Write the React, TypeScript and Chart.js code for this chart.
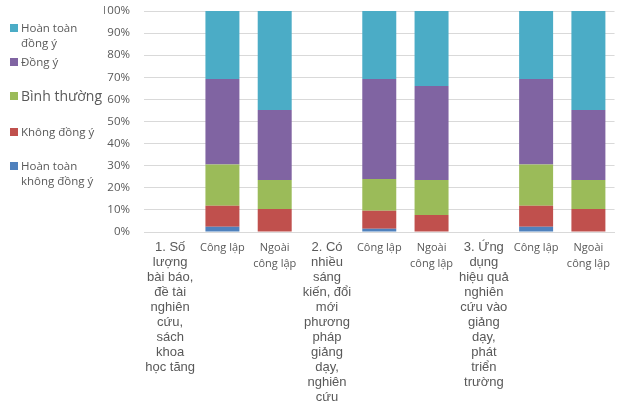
import React, { useEffect, useRef } from "react";
import { Chart, registerables } from "chart.js";

Chart.register(...registerables);

// ---- Data ----
const categories: string[][] = [
  ["1. Số", "lượng", "bài báo,", "đề tài", "nghiên", "cứu,", "sách", "khoa", "học tăng"],
  ["Công lập"],
  ["Ngoài", "công lập"],
  ["2. Có", "nhiều", "sáng", "kiến, đổi", "mới", "phương", "pháp", "giảng", "dạy,", "nghiên", "cứu"],
  ["Công lập"],
  ["Ngoài", "công lập"],
  ["3. Ứng", "dụng", "hiệu quả", "nghiên", "cứu vào", "giảng", "dạy,", "phát", "triển", "trường"],
  ["Công lập"],
  ["Ngoài", "công lập"],
];

const seriesNames = ["Hoàn toàn không đồng ý", "Không đồng ý", "Bình thường", "Đồng ý", "Hoàn toàn đồng ý"];
const legendLines = [["Hoàn toàn", "không đồng ý"], ["Không đồng ý"], ["Bình thường"], ["Đồng ý"], ["Hoàn toàn", "đồng ý"]];
const seriesColors = ["#4F81BD", "#C0504D", "#9BBB59", "#8064A2", "#4BACC6"];

const hoanToanKhongDongY = [null, 2.4, 0, null, 1.5, 0, null, 2.4, 0];
const khongDongY = [null, 9.5, 10.4, null, 8.1, 7.7, null, 9.5, 10.4];
const binhThuong = [null, 18.6, 13.1, null, 14.4, 15.8, null, 18.6, 13.1];
const dongY = [null, 38.7, 31.7, null, 45.2, 42.6, null, 38.7, 31.7];
const hoanToanDongY = [null, 30.8, 44.8, null, 30.8, 33.9, null, 30.8, 44.8];

const seriesValues = [hoanToanKhongDongY, khongDongY, binhThuong, dongY, hoanToanDongY];

const yTicks = [0, 10, 20, 30, 40, 50, 60, 70, 80, 90, 100];

// ---- Layout (legend) ----
const legendTops = [158, 124, 88, 54, 20];
const legendFontSizes = [11.5, 11.5, 14, 11.5, 11.5];

const TEXT = "#595959";

export default function App() {
  const canvasRef = useRef<HTMLCanvasElement | null>(null);

  useEffect(() => {
    document.body.style.margin = "0";
    const canvas = canvasRef.current;
    if (!canvas) return;
    const chart = new Chart(canvas, {
      type: "bar",
      data: {
        labels: categories,
        datasets: seriesNames.map((name, i) => ({
          label: name,
          data: seriesValues[i] as any,
          backgroundColor: seriesColors[i],
          borderWidth: 0,
          barPercentage: 0.65,
          categoryPercentage: 1,
        })),
      },
      options: {
        animation: false,
        responsive: false,
        maintainAspectRatio: false,
        layout: { padding: { left: 104, top: 11, right: 1, bottom: 0 } },
        plugins: {
          legend: { display: false },
          tooltip: { enabled: false },
        },
        scales: {
          x: {
            stacked: true,
            grid: { display: false, drawTicks: false },
            border: { display: true, color: "#D9D9D9" },
            ticks: {
              autoSkip: false,
              maxRotation: 0,
              minRotation: 0,
              padding: 8,
              color: TEXT,
              font: (ctx: any) =>
                ctx.index % 3 === 0
                  ? { family: "'Liberation Sans', Arial, sans-serif", size: 13, lineHeight: 1.15 }
                  : { family: "'Open Sans', sans-serif", size: 11, lineHeight: 1.45 },
            },
            afterFit: (s: any) => {
              s.height = 188;
            },
          },
          y: {
            stacked: true,
            min: 0,
            max: 100,
            afterBuildTicks: (s: any) => {
              s.ticks = yTicks.map((v) => ({ value: v }));
            },
            grid: { color: "#D9D9D9", drawTicks: false },
            border: { display: false },
            ticks: {
              padding: 14,
              color: TEXT,
              font: { family: "'Open Sans', sans-serif", size: 11.5 },
              callback: (v: any) => v + "%",
            },
            afterFit: (s: any) => {
              s.width = 40;
              s.paddingTop = 0;
              s.paddingBottom = 0;
            },
          },
        },
      },
    });
    return () => chart.destroy();
  }, []);

  return (
    <div style={{ position: "relative", width: 618, height: 420, background: "#fff" }}>
      <canvas ref={canvasRef} width={618} height={420} style={{ display: "block" }} />
      {seriesNames.map((name, i) => (
        <div
          key={name}
          style={{
            position: "absolute",
            left: 10,
            top: legendTops[i],
            display: "flex",
            alignItems: "flex-start",
            fontFamily: "'Open Sans', sans-serif",
            fontSize: legendFontSizes[i],
            lineHeight: "15px",
            color: TEXT,
          }}
        >
          <div
            style={{
              width: 8,
              height: 8,
              marginTop: 4,
              marginRight: 3,
              background: seriesColors[i],
              flex: "none",
            }}
          />
          <div>
            {legendLines[i].map((l) => (
              <div key={l}>{l}</div>
            ))}
          </div>
        </div>
      ))}
    </div>
  );
}
